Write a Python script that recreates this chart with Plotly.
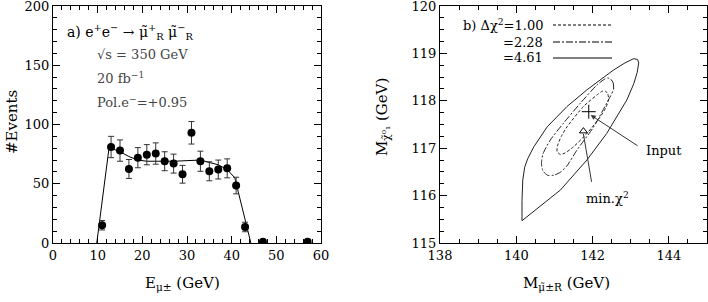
import plotly.graph_objects as go

# ---------------- Panel a data ----------------
e_mu = [11, 13, 15, 17, 19, 21, 23, 25, 27, 29, 31, 33, 35, 37, 39, 41, 43, 47, 57]
events = [15, 81, 78, 62.5, 72, 74.5, 75.5, 69, 67, 58, 93, 69, 60.5, 62, 63, 48.5, 13.5, 1, 1]
events_err = [4, 9, 9, 8, 8.5, 8.5, 9, 8, 8, 7.5, 9.5, 8.5, 8, 8, 8, 7, 4, 0, 0]

fit_x = [9.8, 12.5, 13.0, 15.0, 17.0, 19.0, 21.0, 27.0, 33.0, 35.0, 37.0, 39.0, 40.7, 44.3]
fit_y = [0, 79, 80, 77, 73, 70, 69, 69, 70, 68, 66, 62, 55, 0]

# ---------------- Panel b data ----------------
c461_x = [140.15, 140.63, 141.16, 141.85, 142.37, 142.90, 143.08, 143.17, 143.21, 143.18,
          143.08, 142.85, 142.55, 141.85, 141.33, 140.81, 140.46, 140.30, 140.22, 140.17,
          140.15, 140.15]
c461_y = [115.47, 115.77, 116.12, 116.75, 117.31, 118.02, 118.36, 118.60, 118.80, 118.87,
          118.89, 118.80, 118.65, 118.23, 117.88, 117.45, 117.03, 116.78, 116.60, 116.33,
          115.90, 115.47]

c228_x = [142.47, 142.54, 142.55, 142.47, 142.37, 142.03, 141.59, 141.33, 141.15, 140.98,
          140.82, 140.70, 140.66, 140.70, 140.89, 141.24, 141.68, 142.11, 142.30, 142.40,
          142.47]
c228_y = [118.46, 118.38, 118.24, 118.10, 117.95, 117.45, 116.96, 116.63, 116.49, 116.43,
          116.43, 116.52, 116.68, 116.88, 117.17, 117.53, 117.95, 118.33, 118.45, 118.48,
          118.46]

c100_x = [142.33, 142.40, 142.42, 142.35, 142.20, 141.85, 141.50, 141.28, 141.15, 141.07,
          141.08, 141.18, 141.33, 141.76, 142.11, 142.25, 142.33]
c100_y = [118.21, 118.14, 118.03, 117.86, 117.66, 117.31, 117.03, 116.90, 116.87, 116.93,
          117.05, 117.25, 117.45, 117.88, 118.12, 118.20, 118.21]

input_pt = (141.90, 117.77)
min_pt = (141.76, 117.36)

levels = ["1.00", "2.28", "4.61"]

FONT = "DejaVu Serif"
W, H = 708, 302

def px(x):
    return x / W

def py(y):
    return 1 - y / H

fig = go.Figure()

fig.add_trace(go.Scatter(x=fit_x, y=fit_y, mode="lines",
                         line=dict(color="black", width=1), xaxis="x", yaxis="y",
                         showlegend=False))
fig.add_trace(go.Scatter(x=e_mu, y=events, mode="markers",
                         marker=dict(color="black", size=8),
                         error_y=dict(type="data", array=events_err, color="#333",
                                      thickness=1, width=3),
                         xaxis="x", yaxis="y", showlegend=False))

dash_styles = {"1.00": "3px,2px", "2.28": "7px,2px,2px,2px", "4.61": "solid"}
for lvl, cx, cy in [("4.61", c461_x, c461_y), ("2.28", c228_x, c228_y), ("1.00", c100_x, c100_y)]:
    line = dict(color="#222", width=1, dash=dash_styles[lvl])
    if lvl != "4.61":
        line.update(shape="spline", smoothing=0.6)
    fig.add_trace(go.Scatter(x=cx, y=cy, mode="lines", line=line,
                             xaxis="x2", yaxis="y2", showlegend=False))

fig.add_trace(go.Scatter(x=[input_pt[0]], y=[input_pt[1]], mode="markers",
                         marker=dict(symbol="cross-thin", size=10, color="black",
                                     line=dict(color="black", width=1)),
                         xaxis="x2", yaxis="y2", showlegend=False))
fig.add_trace(go.Scatter(x=[min_pt[0]], y=[min_pt[1]], mode="markers",
                         marker=dict(symbol="triangle-up-open", size=7, color="black",
                                     line=dict(color="black", width=1)),
                         xaxis="x2", yaxis="y2", showlegend=False))

axis_common = dict(showline=True, linecolor="black", linewidth=1, mirror="allticks",
                   ticks="inside", ticklen=7, tickwidth=1, tickcolor="black",
                   showgrid=False, zeroline=False, ticklabeloverflow="allow",
                   automargin=False,
                   tickfont=dict(family=FONT, size=13, color="black"))

fig.update_layout(
    width=W, height=H,
    margin=dict(l=0, r=0, t=0, b=0, pad=0),
    paper_bgcolor="white", plot_bgcolor="white",
    xaxis=dict(domain=[px(53), px(321)], range=[0, 60], dtick=10, anchor="y",
               minor=dict(dtick=2, ticks="inside", ticklen=4, tickcolor="black"),
               **axis_common),
    yaxis=dict(domain=[py(243), py(6)], range=[0, 200], dtick=50, anchor="x",
               minor=dict(dtick=10, ticks="inside", ticklen=4, tickcolor="black"),
               **axis_common),
    xaxis2=dict(domain=[px(440), px(707)], range=[138, 145], tick0=138, dtick=2, anchor="y2",
                minor=dict(dtick=0.5, ticks="inside", ticklen=4, tickcolor="black"),
                **axis_common),
    yaxis2=dict(domain=[py(243), py(6)], range=[115, 120], dtick=1, anchor="x2",
                minor=dict(dtick=0.25, ticks="inside", ticklen=4, tickcolor="black"),
                **axis_common),
)

def txt(x, y, s, size=13, xanchor="left", color="black", **kw):
    fig.add_annotation(x=x, y=y, xref="paper", yref="paper", text=s, showarrow=False,
                       xanchor=xanchor, yanchor="middle",
                       font=dict(family=FONT, size=size, color=color), **kw)

# Panel a texts
txt(px(65), py(32), "a) e<sup>+</sup>e<sup>−</sup> → μ̃<sup>+</sup><sub>R</sub> μ̃<sup>−</sup><sub>R</sub>", size=14)
txt(px(95), py(55), "√s = 350 GeV", color="#444")
txt(px(95), py(78), "20 fb<sup>−1</sup>", color="#444")
txt(px(95), py(102), "Pol.e<sup>−</sup>=+0.95", color="#444")
txt(px(12), py(122), "#Events", size=15, xanchor="center", textangle=-90)
txt(px(182), py(283), "E<sub>μ±</sub> (GeV)", size=15, xanchor="center")

# Panel b texts
txt(px(545), py(25), "b) Δχ<sup>2</sup>=" + levels[0], xanchor="right")
txt(px(545), py(42), "=" + levels[1], xanchor="right")
txt(px(545), py(58), "=" + levels[2], xanchor="right")
for yy, lvl in [(25, "1.00"), (42, "2.28"), (58, "4.61")]:
    fig.add_shape(type="line", xref="paper", yref="paper",
                  x0=px(553), x1=px(612), y0=py(yy), y1=py(yy),
                  line=dict(color="black", width=1, dash=dash_styles[lvl]))

txt(px(382), py(117), "M<sub>χ̃⁰₁</sub> (GeV)", size=15, xanchor="center", textangle=-90)
txt(px(566), py(283), "M<sub>μ̃±R</sub> (GeV)", size=15, xanchor="center")

# Input label + arrow
fig.add_annotation(x=143.88, y=116.96, xref="x2", yref="y2", text="Input", showarrow=False,
                   font=dict(family=FONT, size=13, color="black"))
fig.add_annotation(x=141.95, y=117.70, xref="x2", yref="y2", ax=143.22, ay=117.03,
                   axref="x2", ayref="y2", text="", showarrow=True,
                   arrowhead=2, arrowsize=1, arrowwidth=1, arrowcolor="#333")
# min chi2 label + arrow
fig.add_annotation(x=142.39, y=115.95, xref="x2", yref="y2", text="min.χ<sup>2</sup>",
                   showarrow=False, font=dict(family=FONT, size=13, color="black"))
fig.add_annotation(x=min_pt[0], y=min_pt[1] - 0.06, xref="x2", yref="y2",
                   ax=141.98, ay=116.26, axref="x2", ayref="y2", text="", showarrow=True,
                   arrowhead=0, arrowwidth=1, arrowcolor="#333")

fig.write_html("out.html", config={"displayModeBar": False},
               post_script="document.body.style.margin='0';document.body.style.overflow='hidden';")
